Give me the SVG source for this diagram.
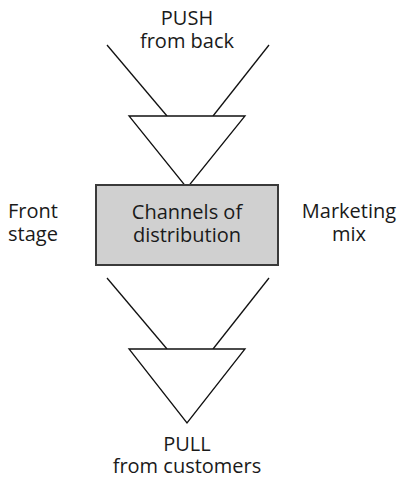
<svg xmlns="http://www.w3.org/2000/svg" width="397" height="479" viewBox="0 0 397 479">
<style>
text{font-family:"Open Sans","Liberation Sans",sans-serif;font-size:20px;fill:#1a1a1a;text-anchor:middle}
.ln{stroke:#111;stroke-width:1.3;fill:none}
.tri{stroke:#111;stroke-width:1.3;fill:#fff;stroke-linejoin:miter}
.box{fill:#d0d0d0;stroke:#3a3a3a;stroke-width:2}
</style>
<rect width="397" height="479" fill="#fff"/>
<g id="connectors">
<line class="ln" x1="107" y1="45" x2="167" y2="116"/>
<line class="ln" x1="269" y1="45" x2="213" y2="116"/>
<line class="ln" x1="107" y1="278" x2="167" y2="349"/>
<line class="ln" x1="269" y1="278" x2="213" y2="349"/>
</g>
<g id="push">
<text x="187" y="25">PUSH</text>
<text x="187" y="48">from back</text>
</g>
<g id="topFunnel">
<polygon class="tri" points="129,116 245,116 187,188"/>
</g>
<g id="channels">
<rect class="box" x="96" y="185" width="182" height="80"/>
<text x="187" y="219">Channels of</text>
<text x="187" y="242">distribution</text>
</g>
<g id="front">
<text x="33" y="218">Front</text>
<text x="33" y="241">stage</text>
</g>
<g id="marketing">
<text x="349" y="218">Marketing</text>
<text x="349" y="241">mix</text>
</g>
<g id="bottomFunnel">
<polygon class="tri" points="129,349 245,349 187,423"/>
</g>
<g id="pull">
<text x="187" y="451">PULL</text>
<text x="187" y="473">from customers</text>
</g>
</svg>
